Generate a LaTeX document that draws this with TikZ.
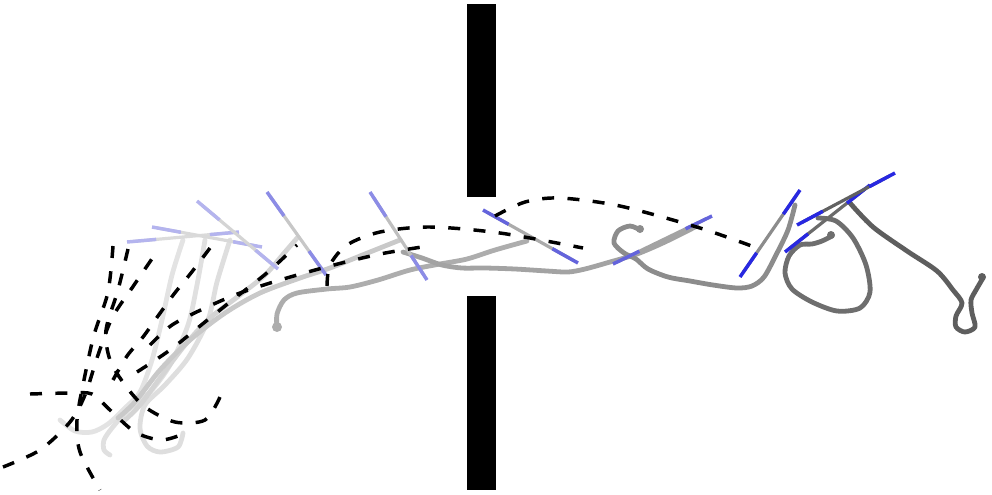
\documentclass[tikz,border=0pt]{standalone}
\usepackage{tikz}
\usetikzlibrary{calc}
\definecolor{ori1}{RGB}{180,180,238}
\definecolor{ori2}{RGB}{140,140,230}
\definecolor{ori3}{RGB}{100,100,220}
\definecolor{ori4}{RGB}{40,40,225}
\tikzset{
  wall/.style  = {fill=black},
  traj/.style  = {line width=3.6pt, line cap=round, line join=round},
  stick/.style = {line width=2.4pt, line cap=round},
  ori/.style   = {line width=2.6pt},
  pred/.style  = {line width=2.6pt, dash pattern=on 9pt off 10pt}
}

\begin{document}
\begin{tikzpicture}[x=0.75pt,y=-0.75pt]
  \useasboundingbox (0,0) rectangle (992,494);
  % trajectories, light (left) to dark (right)
  \draw[traj,black!11] plot[smooth] coordinates {(60,420) (75,431) (92,432) (108,424) (125,408) (140,392) (152,360) (162,320) (172,275) (183,240)};
  \draw[traj,black!12] plot[smooth] coordinates {(110,455) (104,450) (104,440) (112,428) (128,410) (150,392) (170,365) (188,325) (197,285) (205,240)};
  \draw[traj,black!13] plot[smooth] coordinates {(183,433) (178,447) (160,452) (147,446) (140,428) (145,405) (165,385) (188,358) (208,320) (217,282) (230,240)};
  \draw[traj,black!17] plot[smooth] coordinates {(125,420) (140,405) (160,378) (185,345) (210,318) (240,295) (265,275) (285,252) (298,237)};
  \draw[traj,black!21] plot[smooth] coordinates {(118,418) (135,402) (160,370) (190,340) (225,313) (260,293) (300,278) (330,268) (365,254) (400,240)};
  \draw[traj,black!32] plot[smooth] coordinates {(277,328) (277,314) (284,300) (297,293) (327,289) (350,287) (378,280) (410,270) (440,264) (467,259) (495,250) (527,241)};
  \fill[black!32] (277,327) circle (5);
  \draw[traj,black!36] plot[smooth] coordinates {(403,252) (422,258) (442,265) (462,268) (485,268) (515,269) (547,271) (568,272) (585,269) (610,262) (637,254) (665,242) (697,226)};
  \draw[traj,black!45] plot[smooth] coordinates {(640,230) (630,226) (618,231) (614,243) (624,253) (636,259) (648,269) (668,277) (690,281) (713,285) (737,288) (752,286) (764,277) (776,255) (788,230) (795,205)};
  \fill[black!45] (640,229) circle (4);
  \draw[traj,black!57] plot[smooth] coordinates {(832,236) (822,241) (812,244) (800,245) (789,256) (785,273) (792,289) (812,302) (837,311) (860,308) (870,292) (866,265) (853,238) (836,221) (818,218)};
  \fill[black!57] (831,235) circle (4);
  \draw[traj,black!63] plot[smooth] coordinates {(850,203) (873,227) (907,251) (937,271) (953,290) (962,303) (956,316) (956,327) (965,332) (975,327) (972,313) (971,300) (976,290) (983,278)};
  \fill[black!63] (982,277) circle (4);
  % body axes with orientation marks at both ends
  \foreach \ax/\ay/\bx/\by/\oc/\gc in {127/242/239/232/ori1/black!14, 152/227/262/247/ori1/black!15,
      197/201/278/269/ori1/black!17, 267/192/326/275/ori2/black!22, 370/192/427/280/ori2/black!25,
      483/210/578/263/ori3/black!33, 613/264/712/216/ori3/black!36, 740/277/800/190/ori4/black!45,
      785/252/870/185/ori4/black!58, 797/225/895/173/ori4/black!62} {
    \coordinate (p) at (\ax,\ay);
    \coordinate (q) at (\bx,\by);
    \draw[stick,color=\gc] ($(p)!4.5pt!(q)$) -- ($(q)!4.5pt!(p)$);
    \draw[ori,color=\oc] (p) -- ($(p)!22pt!(q)$);
    \draw[ori,color=\oc] (q) -- ($(q)!22pt!(p)$);
  }
  % predicted paths
  \draw[pred] plot[smooth] coordinates {(113,246) (108,292) (94,335) (84,380) (77,420) (80,452) (100,490)};
  \draw[pred] plot[smooth] coordinates {(3,467) (40,450) (70,422) (85,395) (98,355) (112,318) (132,288) (158,250)};
  \draw[pred] plot[smooth] coordinates {(30,394) (70,393) (92,394) (110,410) (135,432) (160,440) (178,436)};
  \draw[pred] plot[smooth] coordinates {(128,249) (118,290) (106,330) (110,360) (125,385) (145,407) (175,422) (205,420) (220,397)};
  \draw[pred] plot[smooth] coordinates {(113,380) (127,356) (143,337) (158,316) (174,294) (191,273) (210,248)};
  \draw[pred] plot[smooth] coordinates {(137,372) (170,350) (205,322) (235,298) (268,272) (297,245)};
  \draw[pred] plot[smooth] coordinates {(150,345) (172,325) (205,308) (240,293) (280,280) (330,266) (380,254) (422,247)};
  \draw[pred] plot[smooth] coordinates {(327,286) (330,265) (347,245) (380,232) (430,227) (500,233) (583,248)};
  \draw[pred] plot[smooth] coordinates {(495,216) (525,202) (560,198) (620,206) (700,228) (757,248)};
  % walls
  \fill[wall] (467,4) rectangle (496,197);
  \fill[wall] (467,296) rectangle (496,490);
\end{tikzpicture}
\end{document}
